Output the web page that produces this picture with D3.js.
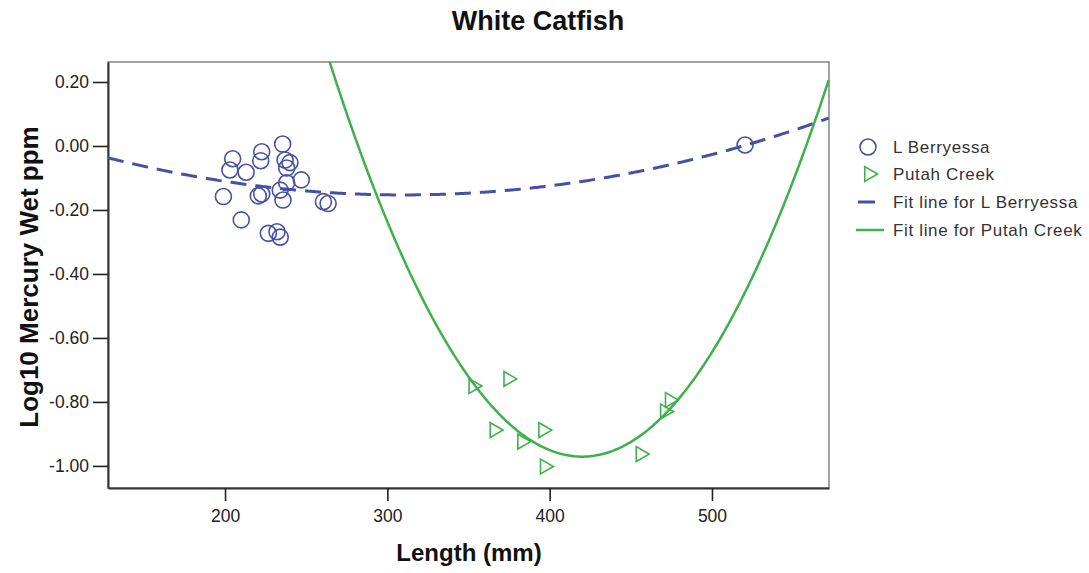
<!DOCTYPE html>
<html>
<head>
<meta charset="utf-8">
<script src="https://cdn.jsdelivr.net/npm/d3@7"></script>
<style>
body { margin: 0; background: #fff; }
text { font-family: "Liberation Sans", Arial, sans-serif; }
</style>
</head>
<body>
<svg width="1089" height="573"></svg>
<script>
// L Berryessa samples (circles)
var berryessaLength = [235.5, 222.6, 222, 204.7, 203, 213, 237, 240, 238, 247, 238, 199, 220.5, 222.6, 234, 235.7, 210, 226.7, 232, 234, 260.6, 263.5, 520.4];
var berryessaHg = [0.006, -0.018, -0.046, -0.04, -0.075, -0.082, -0.044, -0.052, -0.069, -0.106, -0.115, -0.158, -0.156, -0.15, -0.138, -0.169, -0.231, -0.273, -0.268, -0.285, -0.174, -0.18, 0.003];

// Putah Creek samples (triangles)
var putahLength = [353, 374.5, 366, 383, 396, 397, 456, 471, 474];
var putahHg = [-0.75, -0.728, -0.888, -0.924, -0.888, -1.002, -0.963, -0.83, -0.794];

// quadratic fit lines, vertex form: [length at vertex, value at vertex, curvature]
var berryessaFit = [310, -0.153, 3.5e-6];
var putahFit = [420, -0.971, 5.1e-5];

var xTicks = [200, 300, 400, 500];
var yTicks = [0.2, 0, -0.2, -0.4, -0.6, -0.8, -1.0];
var legendLabels = ["L Berryessa", "Putah Creek", "Fit line for L Berryessa", "Fit line for Putah Creek"];

var blue = "#4650a6", green = "#3db14b";

var svg = d3.select("svg"),
    plotL = 108, plotR = 829, plotT = 62, plotB = 488;

var x = d3.scaleLinear().domain([127.9, 572.1]).range([plotL, plotR]);
var y = d3.scaleLinear().domain([-1.069, 0.2625]).range([plotB, plotT]);

// title
svg.append("text")
    .attr("x", 538).attr("y", 30)
    .attr("text-anchor", "middle")
    .attr("font-size", 27).attr("font-weight", "bold")
    .attr("fill", "#111")
    .text("White Catfish");

// frame
svg.append("rect")
    .attr("x", plotL).attr("y", plotT)
    .attr("width", plotR - plotL).attr("height", plotB - plotT)
    .attr("fill", "none").attr("stroke", "#666").attr("stroke-width", 1.2);

svg.append("defs").append("clipPath").attr("id", "plot")
  .append("rect")
    .attr("x", plotL).attr("y", plotT)
    .attr("width", plotR - plotL).attr("height", plotB - plotT);

// axes
var xAxis = svg.append("g")
    .attr("transform", "translate(0," + plotB + ")")
    .call(d3.axisBottom(x).tickValues(xTicks).tickSize(13).tickPadding(9).tickSizeOuter(0));
var yAxis = svg.append("g")
    .attr("transform", "translate(" + plotL + ",0)")
    .call(d3.axisLeft(y).tickValues(yTicks).tickSize(15).tickPadding(4).tickSizeOuter(0)
      .tickFormat(function(d) { return d.toFixed(2); }));

[xAxis, yAxis].forEach(function(a) {
  a.selectAll(".domain").attr("stroke", "#333").attr("stroke-width", 2);
  a.selectAll(".tick line").attr("stroke", "#222").attr("stroke-width", 1.6);
  a.selectAll(".tick text").attr("font-size", 17.5).attr("fill", "#222")
    .style("font-family", "'Liberation Sans', Arial, sans-serif");
});

// axis titles
svg.append("text")
    .attr("x", 469).attr("y", 561)
    .attr("text-anchor", "middle")
    .attr("font-size", 24).attr("font-weight", "bold").attr("fill", "#111")
    .text("Length (mm)");
svg.append("text")
    .attr("transform", "translate(38,277) rotate(-90)")
    .attr("text-anchor", "middle")
    .attr("font-size", 26).attr("font-weight", "bold").attr("fill", "#111")
    .text("Log10 Mercury Wet ppm");

// fit lines
function fitPoints(f) {
  var pts = [];
  for (var v = x.domain()[0]; v <= x.domain()[1]; v += 1) {
    pts.push([v, f[1] + f[2] * (v - f[0]) * (v - f[0])]);
  }
  return pts;
}
var line = d3.line()
    .x(function(d) { return x(d[0]); })
    .y(function(d) { return y(d[1]); });

var lines = svg.append("g").attr("clip-path", "url(#plot)");
lines.append("path")
    .datum(fitPoints(berryessaFit))
    .attr("fill", "none").attr("stroke", blue)
    .attr("stroke-width", 3).attr("stroke-dasharray", "16,9")
    .attr("d", line);
lines.append("path")
    .datum(fitPoints(putahFit))
    .attr("fill", "none").attr("stroke", green)
    .attr("stroke-width", 2.5)
    .attr("d", line);

// points
svg.append("g").selectAll("circle")
    .data(berryessaLength)
  .enter().append("circle")
    .attr("cx", function(d) { return x(d); })
    .attr("cy", function(d, i) { return y(berryessaHg[i]); })
    .attr("r", 8)
    .attr("fill", "none").attr("stroke", blue).attr("stroke-width", 1.6);

var tri = d3.symbol().type(d3.symbolTriangle).size(95);
svg.append("g").selectAll("path")
    .data(putahLength)
  .enter().append("path")
    .attr("d", tri)
    .attr("transform", function(d, i) { return "translate(" + x(d) + "," + y(putahHg[i]) + ") rotate(90)"; })
    .attr("fill", "none").attr("stroke", green).attr("stroke-width", 1.6);

// legend
var lg = svg.append("g");
var rowY = [147, 174, 202, 230];
lg.append("circle").attr("cx", 868).attr("cy", rowY[0]).attr("r", 8)
    .attr("fill", "none").attr("stroke", blue).attr("stroke-width", 1.6);
lg.append("path").attr("d", tri)
    .attr("transform", "translate(869," + rowY[1] + ") rotate(90)")
    .attr("fill", "none").attr("stroke", green).attr("stroke-width", 1.6);
lg.append("line").attr("x1", 858).attr("x2", 875).attr("y1", rowY[2]).attr("y2", rowY[2])
    .attr("stroke", blue).attr("stroke-width", 3);
lg.append("line").attr("x1", 856).attr("x2", 884).attr("y1", rowY[3]).attr("y2", rowY[3])
    .attr("stroke", green).attr("stroke-width", 2.5);
lg.selectAll("text")
    .data(legendLabels)
  .enter().append("text")
    .attr("x", 893)
    .attr("y", function(d, i) { return rowY[i]; })
    .attr("dy", "0.35em")
    .attr("font-size", 17).attr("fill", "#333")
    .style("letter-spacing", "0.65px")
    .text(function(d) { return d; });
</script>
</body>
</html>
